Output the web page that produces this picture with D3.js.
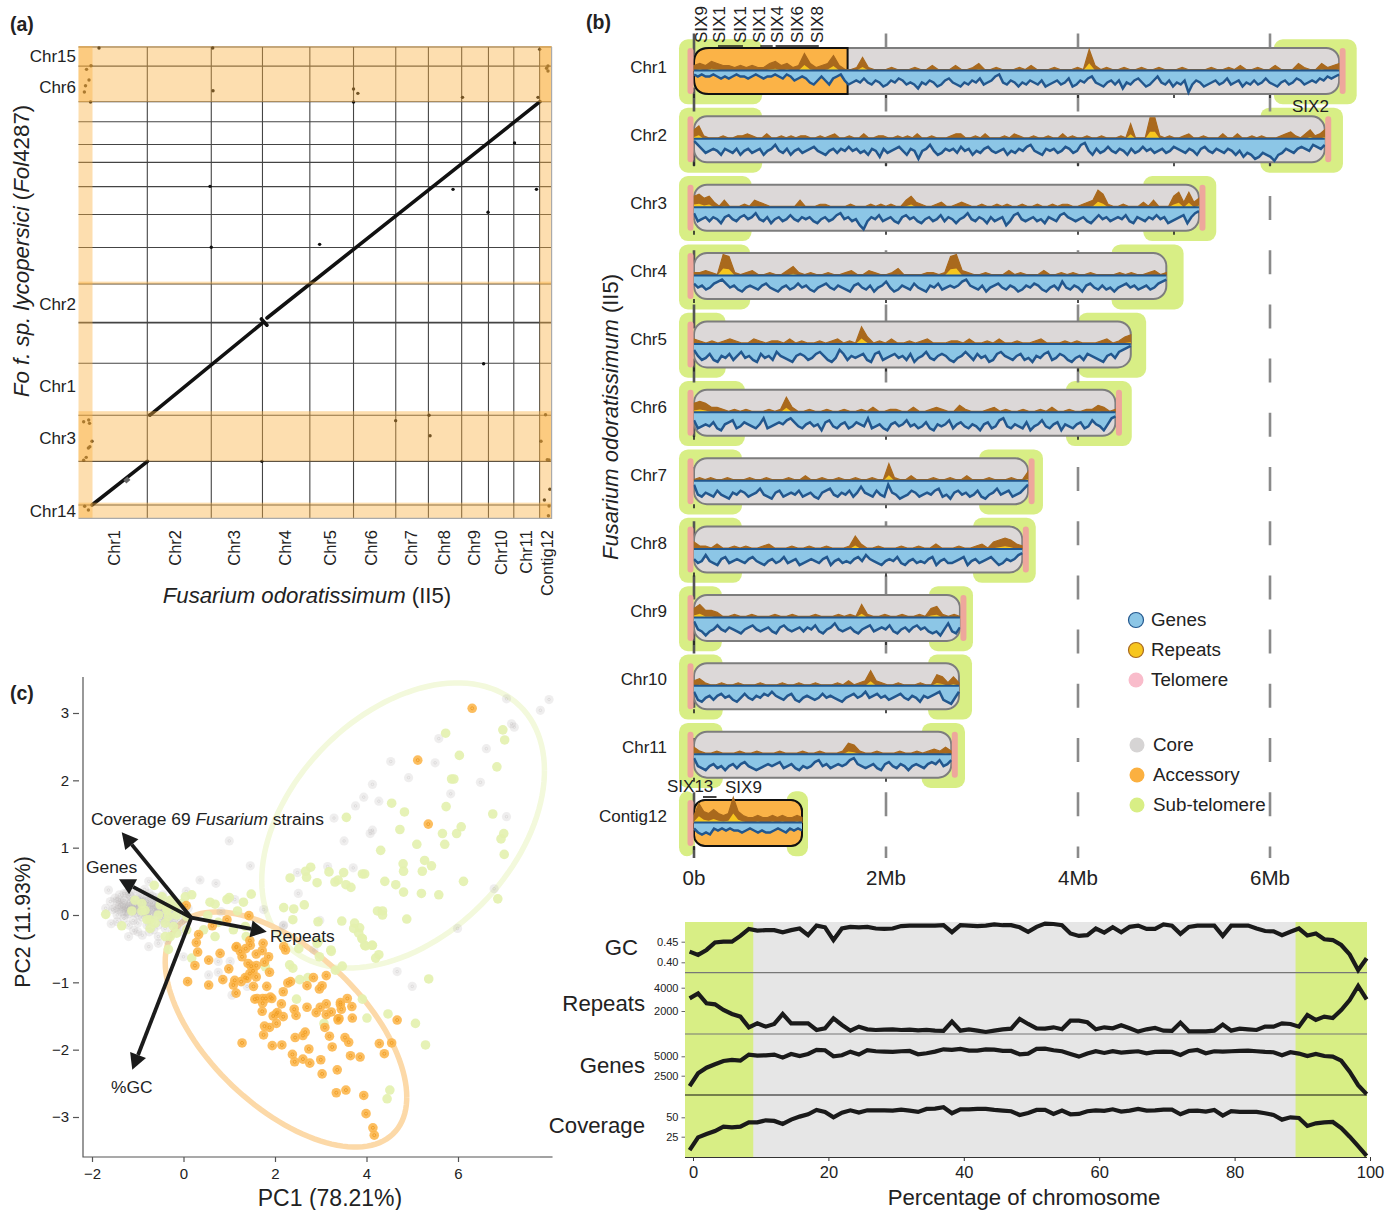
<!DOCTYPE html>
<html>
<head>
<meta charset="utf-8">
<script src="https://d3js.org/d3.v7.min.js"></script>
<style>
  body { margin: 0; background: #fff; }
  svg { display: block; }
  text { font-family: "Liberation Sans", Arial, sans-serif; fill: #222; }
</style>
</head>
<body>
<div id="my_dataviz"></div>
<script>

// ---- panel (a) dot plot, positions in Mb ----
var dotXBreaks = [6.68, 12.89, 17.86, 22.46, 26.7, 30.8, 33.97, 37.2, 39.8, 42.26, 44.77]
var dotYBreaks = [1.29, 5.53, 10.0, 15.05, 22.75, 26.3, 29.5, 32.2, 34.56, 36.3, 38.5, 40.45, 43.9, 45.76]
var dotYHeavy = [19.0]
var dotXLabels = [["Chr1",3.45],["Chr2",9.4],["Chr3",15.1],["Chr4",20.05],["Chr5",24.4],["Chr6",28.4],["Chr7",32.3],["Chr8",35.5],["Chr9",38.4],["Chr10",41],["Chr11",43.45],["Contig12",45.5]]
var dotYLabels = [["Chr15",44.85],["Chr6",41.85],["Chr2",20.8],["Chr1",12.8],["Chr3",7.75],["Chr14",0.7]]
var dotSegments = [[1.31,1.29,6.7,5.53],[6.94,10.02,17.9,19.0],[18.3,19.45,44.8,40.45],[17.75,19.35,18.3,18.75]]
var dotSmudge = [4.5,3.55,4.9,3.88]
var dotPoints = [[1.99,45.66],[13.03,45.66],[44.77,45.53],[0.78,43.59],[1.02,42.55],[0.68,42.0],[0.57,41.39],[1.17,40.42],[13.06,41.51],[26.7,41.68],[27.12,41.26],[26.7,40.42],[37.28,40.87],[44.61,40.87],[45.44,43.69],[45.58,43.91],[45.58,43.43],[1.21,43.94],[42.33,36.44],[36.36,31.94],[44.46,31.94],[39.76,29.71],[23.41,26.6],[12.77,32.23],[12.89,26.31],[39.33,15.01],[0.5,9.38],[0.99,9.54],[1.07,9.22],[1.31,7.48],[1.1,6.95],[0.96,6.83],[0.75,5.92],[0.5,5.63],[6.89,10.03],[6.65,5.53],[17.8,5.53],[30.79,9.48],[34.03,10.0],[34.13,8.02],[45.34,10.06],[44.9,7.48],[45.51,5.69],[45.68,5.66],[0.6,1.17],[0.96,0.81],[45.76,2.82],[45.23,1.78],[45.68,1.19],[45.62,0.25]]
var dotXBands = [[0,1.36],[44.77,45.93]]
var dotYBands = [[40.42,45.85],[5.53,10.4],[0,1.52],[22.72,22.98]]

// ---- panel (b) chromosomes ----
var chromNames = ["Chr1","Chr2","Chr3","Chr4","Chr5","Chr6","Chr7","Chr8","Chr9","Chr10","Chr11","Contig12"]
var chromLengths = [6.72,6.57,5.26,4.92,4.55,4.39,3.48,3.42,2.77,2.76,2.68,1.125]
var subtelLeft = [0.71,0.71,0.6,0.585,0.33,0.53,0.5,0.5,0.29,0.3,0.3,0.01]
var subtelRight = [6.04,5.9,4.68,4.35,4.0,3.875,2.97,2.906,2.448,2.4375,2.372,0.966]
var subtelRightEnd = [6.903,6.76,5.44,5.1,4.71,4.56,3.635,3.56,2.906,2.896,2.823,1.1875]
var rightTelomere = ["Chr1","Chr2","Chr3","Chr6","Chr7","Chr8","Chr9","Chr11"]
var accessorySpans = [["Chr1",1.6],["Contig12",1.125]]
var mbTicks = [0,2,4,6]
var sixLabels = [["SIX9",0.08],["SIX1",0.27],["SIX1",0.48],["SIX1",0.68],["SIX4",0.87],["SIX6",1.08],["SIX8",1.29]]
var sixBrackets = [[0.25,0.51],[0.69,0.82],[0.85,1.3]]

var repeatsChr1 = [3,4,3,5,4,3,3,2,3,2,3,2,2,4,5,3,4,2,3,9,4,2,3,4,8,3,1,1,2,7,2,1,1,1,2,1,1,1,2,1,1,3,1,1,1,3,1,1,2,4,1,1,2,1,1,1,2,1,3,1,1,1,2,1,1,1,2,1,11,3,1,2,1,1,2,1,1,2,1,1,2,1,1,1,2,1,1,1,1,2,1,1,2,1,3,1,1,2,1,1,3,1,1,1,4,2,1,1,4,2,3,4]
var repeatsChr2 = [5,7,2,1,1,1,2,1,1,2,2,3,2,1,1,3,1,1,2,1,2,1,2,2,1,1,2,1,2,3,1,1,2,1,1,3,1,1,2,2,1,1,2,1,2,1,3,1,1,2,1,1,1,2,3,3,1,1,2,1,3,1,1,1,2,1,3,2,1,1,2,1,1,2,1,1,3,1,2,1,1,2,1,1,2,1,1,1,2,1,8,1,1,1,11,11,2,1,2,1,1,2,3,1,1,2,1,1,1,3,1,1,3,1,1,2,1,2,1,1,1,2,3,4,2,1,3,5,2,3,5]
var repeatsChr3 = [6,7,5,6,3,1,4,1,1,1,2,1,4,3,2,1,1,1,1,1,1,4,1,1,1,2,2,1,1,1,1,2,1,1,1,2,1,2,1,2,1,1,4,6,3,2,1,1,2,3,1,1,2,3,2,1,1,2,1,1,2,1,2,1,1,2,1,1,2,1,1,2,1,2,2,1,1,2,3,4,9,7,2,1,1,2,1,1,1,3,1,4,1,1,1,6,8,3,8,3,5]
var repeatsChr4 = [2,2,3,2,1,11,10,2,1,2,3,1,1,2,1,1,3,5,2,1,2,1,1,2,1,1,2,3,1,1,3,2,1,1,2,4,1,1,1,1,2,2,1,2,10,11,3,2,1,1,2,1,1,1,3,1,2,1,1,1,3,1,1,2,1,2,1,1,2,1,1,1,1,2,1,2,1,1,2,3,1,2]
var repeatsChr5 = [3,2,1,2,1,2,3,2,1,1,3,2,1,2,2,1,3,1,2,1,1,2,1,2,3,1,2,1,9,4,1,2,1,3,1,1,2,1,2,3,1,1,1,2,2,1,3,1,1,2,1,3,1,1,2,1,1,2,3,1,1,1,2,1,2,1,1,1,2,3,1,2,4,5]
var repeatsChr6 = [5,6,5,3,3,2,1,2,1,2,1,1,1,2,1,2,8,3,1,1,2,1,1,2,1,1,2,1,1,2,1,3,1,1,2,2,1,1,3,1,1,2,3,2,1,1,4,2,1,1,1,2,3,1,2,1,1,2,1,1,2,1,3,1,1,2,1,1,2,2,4,3,1,2]
var repeatsChr7 = [1,2,1,2,1,1,2,1,1,1,2,1,1,2,1,1,1,2,1,1,3,1,1,2,1,1,2,1,1,2,1,1,2,1,1,9,2,1,1,3,1,1,1,2,1,1,2,1,1,3,1,1,1,2,1,1,1,2,1,1,5]
var repeatsChr8 = [4,2,2,1,3,1,1,2,1,2,1,1,2,3,1,1,1,2,1,1,2,1,1,2,1,1,1,2,7,3,1,1,2,1,1,1,2,1,1,2,1,1,3,1,1,1,2,1,1,2,3,1,4,5,6,5,3,2]
var repeatsChr9 = [5,7,4,4,3,1,1,2,1,1,2,1,1,1,2,1,1,2,1,1,1,2,1,1,1,2,1,2,1,7,2,1,1,2,1,1,2,1,1,2,1,5,6,2,1,2,1]
var repeatsChr10 = [3,4,2,1,1,2,1,1,2,1,1,1,2,1,1,1,2,1,1,2,1,1,2,1,1,1,2,1,3,1,2,3,8,3,2,1,1,2,1,1,1,2,1,1,6,5,2,5,2]
var repeatsChr11 = [4,2,1,1,2,1,1,1,2,1,1,2,1,1,1,2,1,1,1,2,1,1,2,1,1,1,2,6,5,2,1,1,2,1,1,1,2,1,1,2,1,2,3,2,4,2]
var repeatsContig12 = [4,10,6,5,7,5,4,5,13,6,4,3,3,4,3,3,4,3,4,3,3,4,3]

var genesChr1 = [2,3,2,3,3,2,3,4,3,4,3,2,3,3,4,3,2,3,4,3,3,2,3,4,2,3,5,4,3,4,6,7,5,3,5,7,4,3,2,5,7,6,5,6,4,6,7,5,6,8,7,5,6,4,5,7,6,7,9,6,7,5,6,8,7,5,4,6,7,8,6,7,5,6,4,7,6,5,3,2,6,7,5,6,8,6,7,5,6,7,5,8,7,6,5,7,6,4,8,7,5,6,4,3,6,7,8,6,5,7,5,9,6,7,5,4,6,8,7,5,3,6,7,5,8,6,7,5,11,7,5,6,8,7,6,5,7,6,4,7,6,5,8,6,7,5,7,6,4,6,7,8,6,5,7,6,4,5,7,6,5,6,4,5,3,4,3,2]
var genesChr2 = [1,3,5,7,6,5,6,8,5,6,7,5,8,6,5,7,6,5,8,6,5,3,6,7,5,8,6,5,7,6,5,4,6,7,8,6,5,7,5,6,4,6,5,7,6,8,5,6,9,5,7,6,5,4,6,8,5,6,10,6,5,3,6,8,7,5,6,5,7,4,6,5,8,6,7,5,4,6,7,6,5,8,6,7,5,6,4,3,6,7,8,5,6,5,7,6,4,5,7,6,3,2,6,8,5,7,6,4,6,7,5,6,8,5,7,6,4,6,5,7,6,5,7,6,4,5,6,7,5,6,8,5,4,6,7,5,6,7,5,6,8,6,9,7,8,10,9,7,8,9,11,8,7,5,6,7,5,4,5,6,3,4,5,3]
var genesChr3 = [3,7,6,5,7,5,6,8,5,4,6,7,5,4,6,5,3,6,7,5,8,6,5,7,6,4,6,7,5,6,5,7,8,6,5,7,6,4,3,6,5,7,6,9,11,7,5,6,4,7,6,5,7,8,5,4,6,5,7,8,6,5,7,6,4,7,5,6,8,6,5,3,6,7,5,6,8,5,7,6,5,9,7,4,3,6,7,6,5,7,6,8,5,6,7,4,3,5,6,7,6,5,7,8,6,4,6,5,7,6,5,6,4,7,8,5,6,7,5,6,4,6,5,8,7,6,5,4,8,5,3,2]
var genesChr4 = [4,6,5,7,6,4,3,2,4,6,5,7,8,6,5,6,7,5,4,6,7,8,6,5,7,6,4,6,5,7,8,6,5,4,6,7,5,6,7,8,5,4,6,7,5,8,6,5,3,6,8,7,5,6,7,4,6,7,8,5,6,4,7,6,5,6,5,3,2,5,6,7,5,8,6,5,4,6,7,5,6,8,7,5,6,4,5,7,8,6,5,7,3,6,7,5,6,8,5,4,6,7,5,7,6,8,6,5,4,6,5,7,6,5,7,6,4,3,2]
var genesChr5 = [3,6,8,7,5,8,9,6,7,5,8,6,4,7,6,8,9,5,7,6,8,4,6,7,8,9,6,5,6,8,7,5,4,6,8,9,7,3,5,8,6,7,6,5,8,9,5,4,8,7,6,5,7,6,8,5,9,7,6,4,7,8,6,5,6,8,9,7,6,4,6,8,5,7,6,9,8,5,4,6,7,8,6,5,8,7,9,6,7,5,4,8,7,5,6,8,9,7,6,8,5,6,7,8,9,6,5,7,4,3,2,1]
var genesChr6 = [4,8,7,6,7,5,8,9,6,5,4,8,7,5,6,7,8,6,3,8,7,6,5,6,4,3,5,7,8,6,5,7,6,9,5,4,7,8,6,5,8,7,5,6,7,3,8,7,6,8,9,6,5,7,6,4,7,6,8,7,5,8,9,6,7,6,4,8,6,5,7,8,6,7,9,6,5,8,7,4,3,7,8,6,7,8,5,9,7,6,4,7,8,6,5,9,6,7,8,6,5,8,7,4,6,7,9,6,3,2]
var genesChr7 = [2,7,8,6,7,8,5,7,8,9,6,7,5,6,8,7,6,4,7,8,9,6,5,8,7,6,7,5,8,7,6,8,9,6,5,4,7,8,6,7,5,8,6,3,6,7,8,5,7,8,2,6,7,9,8,7,5,6,8,7,6,7,5,4,8,7,9,6,5,7,6,8,7,5,8,9,7,6,4,7,6,5,8,7,6,4,2]
var genesChr8 = [5,7,6,3,6,7,8,5,4,7,6,5,6,7,5,4,6,7,8,6,5,7,6,4,7,6,5,8,7,6,5,6,7,5,4,8,6,5,7,6,7,5,4,6,3,5,6,7,8,6,5,6,4,7,8,6,5,7,6,7,5,4,8,6,5,7,7,6,5,4,8,6,5,7,6,5,4,6,8,7,5,6,5,3,2]
var genesChr9 = [2,6,7,9,7,6,4,6,7,5,6,7,8,6,5,4,6,7,6,5,7,8,5,4,6,7,6,5,7,5,6,4,7,8,6,5,3,6,7,6,5,7,8,6,5,4,7,6,5,6,4,7,8,6,5,7,5,4,6,5,7,8,7,9,6,3,7,8,5]
var genesChr10 = [3,7,8,6,5,7,5,4,6,5,7,8,6,4,6,7,5,6,4,5,3,5,6,7,5,4,7,8,6,5,6,7,6,4,6,5,6,7,8,6,5,4,6,5,3,6,5,4,6,5,7,6,5,4,6,7,5,6,8,5,6,5,4,3,7,8,9,6,3]
var genesChr11 = [2,6,7,8,6,5,7,6,8,6,5,7,5,4,6,7,8,7,6,5,6,5,4,7,6,5,7,8,6,7,6,4,3,6,5,7,6,5,6,5,3,2,5,6,7,6,5,7,8,5,4,6,7,5,6,8,6,5,6,7,5,4,5,3,6,5,3]
var genesContig12 = [3,5,6,5,6,3,4,3,4,3,4,4,5,4,3,4,5,4,5,5,4,3,4,5,3,4,3,4]

// ---- panel (c) PCA, grey = core, green = sub-telomere, orange = accessory ----
var pcaCore = [[7.06,3.21],[7.99,3.2],[7.8,3.04],[7.17,2.84],[7.23,2.79],[5.58,2.62],[6.62,2.47],[4.53,2.28],[5.5,2.26],[4.92,2.04],[6.49,1.97],[4.13,1.94],[5.84,1.8],[3.94,1.75],[4.27,1.69],[3.76,1.62],[3.29,1.44],[7.06,1.46],[4.13,1.26],[4.08,1.21],[3.51,1.1],[3.15,0.72],[2.49,0.63],[3.71,0.7],[2.51,0.32],[2.98,-0.08],[2.18,-0.16],[6.79,0.39],[5.99,-0.2],[-1.64,0.37],[-1.58,-0.13],[-0.76,0.5],[0.36,0.52],[0.71,0.47],[0.06,0.35],[1.0,1.1],[1.46,0.73],[1.75,0.08],[1.12,0.23],[0.82,0.05],[-0.76,-0.47],[-1.2,-0.32],[-1.09,-0.23],[4.67,-0.84],[5.0,-1.06],[0.55,-0.89],[0.76,-0.69],[0.76,-0.85],[1.02,-0.69],[1.39,-1.06],[1.06,-1.19],[2.19,-0.15],[2.85,-0.52],[0,-0.62],[-0.55,-0.42],
[-1.6,0.2],[-1.5,0.1],[-1.5,0.25],[-1.45,0],[-1.4,0.15],[-1.4,0.3],[-1.35,0.05],[-1.3,0.22],[-1.3,-0.05],[-1.25,0.12],[-1.25,0.32],[-1.2,0.02],[-1.2,0.2],[-1.15,0.28],[-1.15,0.08],[-1.1,-0.08],[-1.1,0.15],[-1.05,0.35],[-1.05,0.03],[-1,0.22],[-1,-0.12],[-0.95,0.1],[-0.95,0.28],[-0.9,-0.03],[-0.9,0.18],[-0.85,0.38],[-0.85,0.05],[-0.8,-0.15],[-0.8,0.12],[-0.8,0.25],[-0.75,0],[-0.75,0.32],[-0.7,-0.1],[-0.7,0.18],[-0.65,0.08],[-0.65,-0.22],[-0.6,0.26],[-0.6,-0.02],[-0.55,0.12],[-0.55,-0.15],[-0.5,0.02],[-0.5,0.22],[-0.45,-0.08],[-0.45,0.3],[-0.4,0.1],[-0.4,-0.2],[-0.35,0],[-0.35,0.18],[-0.3,-0.12],[-0.25,0.08],[-0.25,-0.28],[-0.2,-0.05],[-0.2,0.2],[-0.15,0.02],[-0.15,-0.18],[-0.1,0.12],[-0.1,-0.08],[-0.05,-0.25],[0,0.03],[0,-0.12],[0.05,-0.05],[0.1,0.1],
[-1.55,0.08],[-1.45,0.2],[-1.35,0.12],[-1.3,0.32],[-1.28,0],[-1.22,0.1],[-1.18,0.3],[-1.12,0.05],[-1.08,0.22],[-1.02,0.12],[-0.98,0],[-0.92,0.25],[-0.88,0.1],[-0.82,0.02],[-0.78,0.2],[-0.72,0.08],[-0.68,0.28],[-0.62,0.15],[-0.58,0.04],[-0.52,0.18],[-0.48,-0.05],[-0.42,0.05],[-0.38,-0.1],[-0.32,0.08],[-0.28,-0.02],[-0.22,-0.15],[-0.18,0.1],[-1.42,0.08],[-1.32,0.18],[-1.25,0.05],[-1.15,0.18],[-1.05,0.14],[-0.95,0.18],[-0.85,0.2],[-0.75,0.12],[-0.65,0.18],[-0.55,0.05],[-0.45,0.12],[-1.2,0.12],[-1.1,0.08],[-1,0.08],[-0.9,0.08],[-0.8,0.05],[-0.7,0],[-0.6,0.1],[-1.3,0.1],[-1.4,0.22],[-1.7,0.1],[-1.45,-0.1],[-1.2,-0.15],[-1,-0.25],[-0.9,-0.3],[-0.75,-0.25],[-0.55,-0.32],[-0.35,-0.38]]
var pcaSubtel = [[5.73,2.7],[6.98,2.75],[7.02,2.6],[6.03,2.37],[6.85,2.2],[5.86,2.02],[5.91,2.02],[4.55,1.66],[4.83,1.53],[5.74,1.61],[6.76,1.5],[3.56,1.45],[4.73,1.27],[5.66,1.21],[5.97,1.21],[6.07,1.31],[7,1.21],[6.94,1.13],[5.1,1.05],[5.71,1.05],[4.31,0.96],[7.01,0.9],[4.8,0.76],[5.27,0.81],[5.42,0.73],[5.22,0.65],[4.81,0.65],[2.78,0.71],[2.67,0.65],[2.33,0.55],[2.69,0.56],[3.18,0.64],[3.5,0.63],[3.91,0.61],[3.96,0.61],[2.92,0.48],[3.31,0.49],[3.38,0.52],[3.55,0.45],[3.66,0.41],[4.4,0.5],[4.64,0.45],[6.12,0.5],[4.81,0.34],[5.2,0.32],[5.58,0.3],[6.87,0.24],[2.19,0.11],[2.41,0.09],[2.64,0.15],[2.39,-0.07],[2.94,-0.1],[3.46,-0.09],[3.74,-0.12],[3.85,-0.19],[4.24,0.06],[4.35,0.06],[4.35,0],[4.88,-0.06],[3.9,-0.35],[3.96,-0.45],[4.12,-0.45],[2.94,-0.4],[3.22,-0.52],
[-1.7,0.01],[-1.35,-0.16],[-0.64,0.44],[0.04,0.27],[0.18,0.3],[0.58,0.19],[0.69,0.16],[0.95,0.23],[1,0.26],[1.31,0.19],[1.48,0.31],[1.18,0.06],[0.53,-0.01],[0.76,-0.11],[1.09,-0.22],[0.69,-0.32],[-1.06,0.22],[-0.91,0.06],[-0.51,0.15],[-0.36,0.07],[-0.18,0.12],[-0.73,-0.07],[-0.4,-0.12],[-0.22,-0.17],[-0.29,-0.32],[0.07,-0.22],[0.44,-0.22],[1.37,-0.32],[1.35,-0.17],
[-1.13,0.06],[-0.8,-0.07],[-0.62,-0.12],[-0.73,-0.2],[-0.33,-0.02],[-0.15,0],[-0.55,0],[-0.29,0.22],[-0.04,0.17],[-0.36,0.1],[0.07,-0.02],[-0.84,0.07],[-0.91,0.17],[-0.47,0.27],[-0.15,-0.27],[-0.4,-0.32],
[2.32,-0.74],[2.39,-0.79],[2.54,-0.96],[2.72,-0.93],[3.32,-0.82],[3.47,-0.76],[2.97,-0.62],[3.23,-0.54],[2.47,-1.25],[3.91,-1.25],[4.01,-1.53],[4.47,-1.47],[5.07,-1.61],[5.36,-0.95],[5.29,-1.93],[4.51,-2.6],[4.45,-2.73],[3.07,-1.61],[-0.33,-0.51],[0.18,-0.64],[1.79,-0.77],[3.98,-0.46],[4.13,-0.45],[4.27,-0.59],[4.2,-0.64],[3.83,-0.27],[3.72,-0.2],[3.91,-0.35],[2.92,-0.42],[2.52,-0.5]]
var pcaAccessory = [[0.33,-0.29],[0.28,-0.41],[0.31,-0.55],[0.55,-0.67],[0.25,-0.75],[0.09,-0.99],[0.55,-1.04],[0.8,-0.57],[0.86,-0.96],[0.99,-0.8],[1.15,-0.48],[1.24,-0.54],[1.28,-0.62],[1.36,-0.5],[1.46,-0.45],[1.45,-0.38],[1.59,-0.58],[1.72,-0.53],[1.74,-0.42],[1.86,-0.62],[1.77,-0.7],[1.41,-0.72],[1.48,-0.76],[1.59,-0.75],[1.45,-0.87],[1.88,-0.85],[1.39,-0.94],[1.59,-0.92],[1.12,-0.97],[1.09,-1.04],[1.26,-0.99],[1.53,-1.06],[1.82,-1.06],[1.15,-1.16],[2.18,-1.14],[2.28,-1.01],[2.34,-0.99],[2.7,-1.05],[2.84,-0.93],[3.12,-0.9],[2.97,-1.1],[3.03,-1.05],[2.19,-0.47],[2.23,-0.52],[1.61,-1.24],[1.73,-1.24],[1.73,-1.31],[1.9,-1.22],[1.93,-1.24],[2.14,-1.32],[1.72,-1.43],[2.03,-1.47],[1.96,-1.5],[2.18,-1.51],[2.03,-1.61],[1.77,-1.65],[1.88,-1.67],[1.75,-1.78],[2.42,-1.4],[2.46,-1.49],[2.7,-1.37],[2.9,-1.45],[2.99,-1.37],[3.12,-1.32],[3.12,-1.48],[3.23,-1.44],[3.38,-1.54],[3.43,-1.3],[3.45,-1.4],[3.58,-1.24],[3.68,-1.36],[3.69,-1.53],[3.09,-1.67],[2.44,-1.82],[2.61,-1.79],[2.66,-1.74],[3.19,-1.8],[3.53,-1.82],[3.61,-1.89],[1.28,-1.9],[1.94,-1.94],[2.15,-1.93],[3.25,-1.96],[2.74,-1.99],[2.38,-2.07],[2.43,-2.18],[2.61,-2.14],[2.76,-2.2],[3,-2.15],[3.65,-2.09],[3.86,-2.11],[4.28,-1.91],[4.55,-1.9],[4.39,-2.06],[4.67,-1.56],[3.36,-2.3],[3.03,-2.36],[3.34,-2.64],[3.55,-2.6],[3.94,-2.68],[3.99,-2.95],[4.14,-3.16],[4.17,-3.27],[0.06,0.14],[0.95,-0.07],[1.43,-0.01],[0.63,-0.16],[1.16,-0.47],[6.31,3.07],[5.12,2.3],[5.35,1.35],[1.35,-0.93],[1.52,-0.83],[1.56,-1.25],[1.8,-1.24],[2.05,-1.45],[3.43,-1.33],[3.38,-1.56],[3.4,-1.54]]
// ellipses: centre x, centre y, sd x, sd y, correlation
var ellipseAccessory = [2.24,-1.7,2.64,1.746,-0.575]
var ellipseSubtel = [4.8,1.33,3.09,2.117,0.385]
var pcaOrigin = [0.17,-0.04]
var pcaArrows = [["cov",-1.35,1.23],["genes",-1.41,0.53],["rep",1.82,-0.25],["gc",-1.12,-2.3]]

// ---- bottom panel, mean along chromosome, x = -0.5 + 1.25 * index ----
var gcValues = [.426,.418,.430,.448,.450,.450,.464,.481,.477,.478,.478,.473,.478,.482,.466,.489,.485,.454,.482,.486,.485,.486,.482,.481,.482,.488,.489,.489,.489,.489,.490,.473,.490,.489,.488,.489,.492,.490,.490,.485,.474,.486,.494,.493,.490,.470,.464,.466,.482,.472,.485,.473,.486,.489,.481,.481,.492,.489,.469,.486,.489,.489,.489,.464,.489,.489,.489,.482,.476,.475,.466,.474,.482,.465,.470,.456,.454,.442,.419,.381,.410]
var repeatValues = [3086,3514,2657,2571,2086,1743,1514,600,943,657,886,1743,943,943,943,371,514,1371,800,314,657,429,371,400,429,371,400,343,371,314,286,1086,314,429,314,200,314,429,486,1314,886,514,486,600,429,1171,1171,1029,429,600,514,771,514,229,429,543,314,286,1000,257,257,257,314,829,314,486,429,371,657,657,943,886,657,1657,1229,1514,1400,2086,2943,4143,3000]
var geneValues = [1160,2800,3530,3970,4400,4530,4440,5220,5090,5130,5220,4830,5300,5040,5300,5820,5780,5000,5130,5600,5220,5780,5650,5600,5560,5650,5690,5260,5390,5600,5900,5820,5950,5730,5730,5900,5860,5690,5690,5260,5350,5950,5990,5780,5650,5300,4960,5350,5650,5430,5650,5470,5560,5650,5390,5560,5600,5560,5170,5690,5820,5390,5650,5600,5650,5690,5730,5650,5560,5520,5130,5520,5350,5040,5300,5040,4960,4440,3020,1290,130]
var coverageValues = [7.8,24.1,28.4,32.3,37.9,37.1,37.9,43.5,43.5,46.1,45.3,41.4,47,50.9,53.9,59.5,56.9,50,56,59,56,59,59,59,58.6,59.9,58.6,56.9,60.8,61.2,62.9,55.2,60.3,60.3,60.8,60.8,59.5,58.6,57.8,53,55.6,59.5,59.5,54.3,58.6,53.9,54.3,57.8,59,58.2,60.3,57.3,58.6,60.8,58.6,59,59.9,59.9,53.9,58.2,58.6,57.3,59.5,52.2,57.8,56.9,56.9,56.9,55.2,53,47,50,49.1,38.8,42.2,43.5,44,36.2,25,12.9,0.4]
var subtelEdges = [8.9,89]

var width = 1397, height = 1210
var svg = d3.select("#my_dataviz").append("svg")
  .attr("width", width).attr("height", height)

function label(g, x, y, txt, size, anchor) {
  return g.append("text").attr("x", x).attr("y", y).text(txt)
    .attr("font-size", size).attr("text-anchor", anchor || "start")
    .attr("dominant-baseline", "central")
}

svg.append("text").attr("x", 10).attr("y", 31).text("(a)").attr("font-size", 19.5).attr("font-weight", "bold")
svg.append("text").attr("x", 586).attr("y", 29).text("(b)").attr("font-size", 19.5).attr("font-weight", "bold")
svg.append("text").attr("x", 10).attr("y", 700).text("(c)").attr("font-size", 19.5).attr("font-weight", "bold")

//////////
// PANEL A
//////////
var ax = d3.scaleLinear().domain([0, 45.93]).range([78.5, 551.6])
var ay = d3.scaleLinear().domain([0, 45.76]).range([518.3, 47])
var gA = svg.append("g")

gA.selectAll("line.v").data(dotXBreaks).enter().append("line")
  .attr("x1", d => ax(d)).attr("x2", d => ax(d))
  .attr("y1", ay(45.76)).attr("y2", ay(0))
  .attr("stroke", "#444").attr("stroke-width", 1.1)
gA.selectAll("line.h").data(dotYBreaks).enter().append("line")
  .attr("x1", ax(0)).attr("x2", ax(45.93))
  .attr("y1", d => ay(d)).attr("y2", d => ay(d))
  .attr("stroke", "#444").attr("stroke-width", 1.1)
gA.selectAll("line.hh").data(dotYHeavy).enter().append("line")
  .attr("x1", ax(0)).attr("x2", ax(45.93))
  .attr("y1", d => ay(d)).attr("y2", d => ay(d))
  .attr("stroke", "#444").attr("stroke-width", 1.8)

gA.selectAll("line.seg").data(dotSegments).enter().append("line")
  .attr("x1", d => ax(d[0])).attr("y1", d => ay(d[1]))
  .attr("x2", d => ax(d[2])).attr("y2", d => ay(d[3]))
  .attr("stroke", "#111").attr("stroke-width", 3.6).attr("stroke-linecap", "round")
gA.append("line")
  .attr("x1", ax(dotSmudge[0])).attr("y1", ay(dotSmudge[1]))
  .attr("x2", ax(dotSmudge[2])).attr("y2", ay(dotSmudge[3]))
  .attr("stroke", "#666").attr("stroke-width", 4.6)
gA.selectAll("circle").data(dotPoints).enter().append("circle")
  .attr("cx", d => ax(d[0])).attr("cy", d => ay(d[1])).attr("r", 1.7).attr("fill", "#111")

gA.selectAll("rect.xb").data(dotXBands).enter().append("rect")
  .attr("x", d => ax(d[0])).attr("width", d => ax(d[1]) - ax(d[0]))
  .attr("y", ay(45.85)).attr("height", ay(0) - ay(45.85))
  .attr("fill", "#fbb040").attr("opacity", 0.42)
gA.selectAll("rect.yb").data(dotYBands).enter().append("rect")
  .attr("x", ax(0)).attr("width", ax(45.93) - ax(0))
  .attr("y", d => ay(d[1])).attr("height", d => ay(d[0]) - ay(d[1]))
  .attr("fill", "#fbb040").attr("opacity", 0.42)

gA.append("path").attr("d", d3.line()([[ax(45.93), ay(45.76)], [ax(45.93), ay(0)], [ax(0), ay(0)]]))
  .attr("fill", "none").attr("stroke", "#aaa").attr("stroke-width", 1.2)

dotYLabels.forEach(d => label(gA, 76, ay(d[1]), d[0], 17, "end"))
dotXLabels.forEach(d => {
  label(gA, 0, 0, d[0], 16.5, "end")
    .attr("transform", "translate(" + ax(d[1]) + ",530) rotate(-90)")
})
var axTitle = label(gA, 307, 595, "", 22.2, "middle")
axTitle.append("tspan").attr("font-style", "italic").text("Fusarium odoratissimum")
axTitle.append("tspan").text(" (II5)")
var ayTitle = label(gA, 0, 0, "", 22.3, "middle").attr("transform", "translate(21,251) rotate(-90)")
ayTitle.append("tspan").attr("font-style", "italic").text("Fo f. sp. lycopersici ")
ayTitle.append("tspan").text("(")
ayTitle.append("tspan").attr("font-style", "italic").text("Fol")
ayTitle.append("tspan").text("4287)")

//////////
// PANEL B
//////////
var bx = d3.scaleLinear().domain([0, 6]).range([694, 1270])
var rowTop = d3.scalePoint().domain(chromNames).range([48, 800])
var rowLabel = d3.scalePoint().domain(chromNames).range([67, 816])
var rowH = 46, trackUnit = 2
var repeatTracks = [repeatsChr1,repeatsChr2,repeatsChr3,repeatsChr4,repeatsChr5,repeatsChr6,repeatsChr7,repeatsChr8,repeatsChr9,repeatsChr10,repeatsChr11,repeatsContig12]
var geneTracks = [genesChr1,genesChr2,genesChr3,genesChr4,genesChr5,genesChr6,genesChr7,genesChr8,genesChr9,genesChr10,genesChr11,genesContig12]
var gB = svg.append("g")

// sub-telomere boxes first, the guide lines run over them
chromNames.forEach(function(name, i) {
  var t = rowTop(name)
  gB.append("rect").attr("x", 679).attr("y", t - 8.7).attr("rx", 9)
    .attr("width", bx(subtelLeft[i]) - 679).attr("height", rowH + 19)
    .attr("fill", "#d8ee85")
  gB.append("rect").attr("x", bx(subtelRight[i])).attr("y", t - 8.7).attr("rx", 9)
    .attr("width", bx(subtelRightEnd[i]) - bx(subtelRight[i])).attr("height", rowH + 19)
    .attr("fill", "#d8ee85")
})

gB.selectAll("line.guide").data(mbTicks).enter().append("line")
  .attr("x1", d => bx(d)).attr("x2", d => bx(d))
  .attr("y1", 33.4).attr("y2", 858)
  .attr("stroke", d => d === 0 ? "#555" : "#8a8a8a").attr("stroke-width", 2.6)
  .attr("stroke-dasharray", "24 30.2")

var tickMb = [0, 2, 4, 5, 6]
chromNames.forEach(function(name, i) {
  var t = rowTop(name), len = chromLengths[i]
  var g = gB.append("g")
  var base = t + 22.5

  g.selectAll("line.tk").data(tickMb.filter(d => d <= len)).enter().append("line")
    .attr("x1", d => bx(d)).attr("x2", d => bx(d))
    .attr("y1", t + rowH).attr("y2", t + rowH + 4)
    .attr("stroke", "#222").attr("stroke-width", 1.6)

  g.append("rect").attr("x", bx(0)).attr("y", t).attr("rx", 13)
    .attr("width", bx(len) - bx(0)).attr("height", rowH)
    .attr("fill", "#dcd8d8").attr("stroke", "#7d7d7d").attr("stroke-width", 2)

  var acc = accessorySpans.filter(d => d[0] === name)[0]
  if (acc) {
    var r = 15, x0 = bx(0), x1 = bx(acc[1]), b = t + rowH
    var pth = d3.path()
    if (acc[1] === len) {
      g.append("rect").attr("x", x0).attr("y", t).attr("rx", 11)
        .attr("width", x1 - x0).attr("height", rowH)
        .attr("fill", "#fbb347").attr("stroke", "#111").attr("stroke-width", 2)
    } else {
      pth.moveTo(x1, t); pth.lineTo(x0 + r, t)
      pth.quadraticCurveTo(x0, t, x0, t + r); pth.lineTo(x0, b - r)
      pth.quadraticCurveTo(x0, b, x0 + r, b); pth.lineTo(x1, b); pth.closePath()
      g.append("path").attr("d", pth.toString())
        .attr("fill", "#fbb347").attr("stroke", "#111").attr("stroke-width", 2)
    }
  }

  // repeats above the line, genes below it
  var rep = repeatTracks[i], gen = geneTracks[i]
  var rx = d3.scaleLinear().domain([0, rep.length - 1]).range([bx(0), bx(len)])
  var gx = d3.scaleLinear().domain([0, gen.length - 1]).range([bx(0), bx(len)])
  var downY = d => base + d * trackUnit

  g.append("path").datum(rep)
    .attr("d", d3.area().x((d, j) => rx(j)).y0(base).y1(d => base - (d * trackUnit - 1)))
    .attr("fill", "#a9691d").attr("stroke", "#a9691d").attr("stroke-width", 1.2)
  g.append("path").datum(rep)
    .attr("d", d3.area().x((d, j) => rx(j)).y0(base).y1(d => base - Math.max(0, d - 3) * trackUnit * 0.45))
    .attr("fill", "#f7c61e")
  g.append("path").datum(gen)
    .attr("d", d3.area().x((d, j) => gx(j)).y0(base).y1(downY))
    .attr("fill", "#8cc6e6")
  g.append("path").datum(gen)
    .attr("d", d3.line().x((d, j) => gx(j)).y(downY))
    .attr("fill", "none").attr("stroke", "#22578e").attr("stroke-width", 2.5)
  g.append("line").attr("x1", bx(0)).attr("x2", bx(len)).attr("y1", base).attr("y2", base)
    .attr("stroke", "#22578e").attr("stroke-width", 2)

  // telomeres
  g.append("rect").attr("x", 687.5).attr("y", t).attr("width", 6).attr("height", rowH).attr("rx", 3)
    .attr("fill", "#eea79c")
  if (rightTelomere.indexOf(name) >= 0) {
    g.append("rect").attr("x", bx(len) + 0.5).attr("y", t).attr("width", 6).attr("height", rowH).attr("rx", 3)
      .attr("fill", "#eea79c")
  }
  label(gB, 667, rowLabel(name), name, 17, "end")
})

sixLabels.forEach(d => {
  label(gB, 0, 0, d[0], 17, "start")
    .attr("transform", "translate(" + bx(d[1]) + ",43) rotate(-90)")
})
gB.selectAll("line.six").data(sixBrackets).enter().append("line")
  .attr("x1", d => bx(d[0])).attr("x2", d => bx(d[1])).attr("y1", 46).attr("y2", 46)
  .attr("stroke", "#111").attr("stroke-width", 1.4)
label(gB, 1292, 106, "SIX2", 17)
label(gB, 667, 786, "SIX13", 17)
label(gB, 725, 787, "SIX9", 17)
gB.append("line").attr("x1", 703).attr("x2", 716.5).attr("y1", 797).attr("y2", 797)
  .attr("stroke", "#111").attr("stroke-width", 1.6)

label(gB, bx(0), 877, "0b", 20.5, "middle")
label(gB, bx(2), 877, "2Mb", 20.5, "middle")
label(gB, bx(4), 877, "4Mb", 20.5, "middle")
label(gB, bx(6), 877, "6Mb", 20.5, "middle")

var byTitle = label(gB, 0, 0, "", 22, "middle").attr("transform", "translate(610,417) rotate(-90)")
byTitle.append("tspan").attr("font-style", "italic").text("Fusarium odoratissimum")
byTitle.append("tspan").text(" (II5)")

var legendTrack = [["Genes","#8cc6e6","#22578e",620],["Repeats","#f7c61e","#a9691d",650],["Telomere","#f9bccb","none",680]]
legendTrack.forEach(d => {
  gB.append("circle").attr("cx", 1136).attr("cy", d[3]).attr("r", 7.5).attr("fill", d[1]).attr("stroke", d[2]).attr("stroke-width", 1.2)
  label(gB, 1151, d[3] - 1, d[0], 18.8)
})
var legendType = [["Core","#d6d4d4",745],["Accessory","#fbb040",775],["Sub-telomere","#d8ee85",805]]
legendType.forEach(d => {
  gB.append("circle").attr("cx", 1137).attr("cy", d[2]).attr("r", 7.5).attr("fill", d[1])
  label(gB, 1153, d[2] - 1, d[0], 18.8)
})

//////////
// PANEL C
//////////
var cx = d3.scaleLinear().domain([-2, 6]).range([92, 458])
var cy = d3.scaleLinear().domain([-3, 3]).range([1117, 713])
var gC = svg.append("g")

function ellipsePath(e) {
  var pts = d3.range(0, 2 * Math.PI + 0.05, 0.05).map(function(t) {
    return [cx(e[0] + e[2] * Math.cos(t)),
            cy(e[1] + e[3] * (e[4] * Math.cos(t) + Math.sqrt(1 - e[4] * e[4]) * Math.sin(t)))]
  })
  return d3.line()(pts)
}
gC.append("path").attr("d", ellipsePath(ellipseSubtel)).attr("fill", "none").attr("stroke", "#f3f9dc").attr("stroke-width", 5.5)
gC.append("path").attr("d", ellipsePath(ellipseAccessory)).attr("fill", "none").attr("stroke", "#fcd9a8").attr("stroke-width", 5.5)

gC.selectAll("circle.core").data(pcaCore).enter().append("circle")
  .attr("cx", d => cx(d[0])).attr("cy", d => cy(d[1])).attr("r", 4.6)
  .attr("fill", "#b5b3b3").attr("opacity", 0.22)
gC.selectAll("circle.corein").data(pcaCore).enter().append("circle")
  .attr("cx", d => cx(d[0])).attr("cy", d => cy(d[1])).attr("r", 1.3)
  .attr("fill", "none").attr("stroke", "#b0aeae").attr("stroke-width", 0.7).attr("opacity", 0.35)
gC.selectAll("circle.sub").data(pcaSubtel).enter().append("circle")
  .attr("cx", d => cx(d[0])).attr("cy", d => cy(d[1])).attr("r", 4.8)
  .attr("fill", "#e3f1ae").attr("opacity", 0.9)
gC.selectAll("circle.acc").data(pcaAccessory).enter().append("circle")
  .attr("cx", d => cx(d[0])).attr("cy", d => cy(d[1])).attr("r", 4.8)
  .attr("fill", "#fcb54a").attr("opacity", 0.88)
gC.selectAll("circle.accin").data(pcaAccessory).enter().append("circle")
  .attr("cx", d => cx(d[0])).attr("cy", d => cy(d[1])).attr("r", 1.5)
  .attr("fill", "none").attr("stroke", "#ee9a20").attr("stroke-width", 0.8)

// loading arrows
pcaArrows.forEach(function(a) {
  var x0 = cx(pcaOrigin[0]), y0 = cy(pcaOrigin[1]), x1 = cx(a[1]), y1 = cy(a[2])
  var ang = Math.atan2(y1 - y0, x1 - x0), hl = 16, hw = 8.5
  var bx0 = x1 - hl * Math.cos(ang), by0 = y1 - hl * Math.sin(ang)
  gC.append("line").attr("x1", x0).attr("y1", y0).attr("x2", bx0).attr("y2", by0)
    .attr("stroke", "#1b1b1b").attr("stroke-width", 3.8)
  gC.append("path").attr("fill", "#1b1b1b").attr("d", d3.line()([
    [x1, y1],
    [bx0 + hw * Math.sin(ang), by0 - hw * Math.cos(ang)],
    [bx0 - hw * Math.sin(ang), by0 + hw * Math.cos(ang)]
  ]) + "Z")
})
var covLabel = label(gC, 91, 819, "", 17.4)
covLabel.append("tspan").text("Coverage 69 ")
covLabel.append("tspan").attr("font-style", "italic").text("Fusarium")
covLabel.append("tspan").text(" strains")
label(gC, 86, 867, "Genes", 17.4)
label(gC, 270, 936, "Repeats", 17.4)
label(gC, 111, 1087, "%GC", 17.4)

var yAxisC = gC.append("g").attr("transform", "translate(79,0)")
  .call(d3.axisLeft(cy).tickValues([-3,-2,-1,0,1,2,3]).tickSize(6).tickPadding(4).tickFormat(d3.format("d")))
yAxisC.select(".domain").remove()
var xAxisC = gC.append("g").attr("transform", "translate(0,1157)")
  .call(d3.axisBottom(cx).tickValues([-2,0,2,4,6]).tickSize(5).tickPadding(6).tickFormat(d3.format("d")))
xAxisC.select(".domain").remove()
gC.selectAll(".tick text").attr("font-size", 15).attr("font-family", "Liberation Sans").attr("fill", "#222")
gC.selectAll(".tick line").attr("stroke", "#555").attr("stroke-width", 1.2)
gC.append("path").attr("d", d3.line()([[83, 677], [83, 1157], [552, 1157]]))
  .attr("fill", "none").attr("stroke", "#555").attr("stroke-width", 1.2)
label(gC, 330, 1198, "PC1 (78.21%)", 23, "middle")
label(gC, 0, 0, "PC2 (11.93%)", 21.2, "middle").attr("transform", "translate(22,922) rotate(-90)")

//////////
// BOTTOM PANEL
//////////
var dx = d3.scaleLinear().domain([0, 100]).range([693, 1370])
var gD = svg.append("g")
gD.append("rect").attr("x", 685).attr("y", 922).attr("width", 682).attr("height", 235).attr("fill", "#d8ee85")
gD.append("rect").attr("x", dx(subtelEdges[0])).attr("y", 922)
  .attr("width", dx(subtelEdges[1]) - dx(subtelEdges[0])).attr("height", 235).attr("fill", "#e6e6e6")

var sepY = [[972.7,"#777"],[1034,"#777"],[1095,"#111"]]
sepY.forEach(d => gD.append("line").attr("x1", 685).attr("x2", 1367).attr("y1", d[0]).attr("y2", d[0]).attr("stroke", d[1]).attr("stroke-width", 1.2))

var strips = [
  { name: "GC", vals: gcValues, dom: [0.40, 0.45], rng: [962.3, 941.7], ticks: [0.40, 0.45], fmt: d3.format(".2f"), ly: 947, lx: 638 },
  { name: "Repeats", vals: repeatValues, dom: [2000, 4000], rng: [1011, 987.7], ticks: [2000, 4000], fmt: d3.format("d"), ly: 1003, lx: 645 },
  { name: "Genes", vals: geneValues, dom: [2500, 5000], rng: [1075.7, 1056.3], ticks: [2500, 5000], fmt: d3.format("d"), ly: 1065, lx: 645 },
  { name: "Coverage", vals: coverageValues, dom: [25, 50], rng: [1136.7, 1117.3], ticks: [25, 50], fmt: d3.format("d"), ly: 1125, lx: 645 }
]
strips.forEach(function(s) {
  var y = d3.scaleLinear().domain(s.dom).range(s.rng)
  gD.append("path").datum(s.vals)
    .attr("d", d3.line().x((d, i) => dx(-0.5 + 1.25 * i)).y(d => y(d)))
    .attr("fill", "none").attr("stroke", "#1a1a1a").attr("stroke-width", 4.2).attr("stroke-linejoin", "miter")
  var ax1 = gD.append("g").attr("transform", "translate(685,0)")
    .call(d3.axisLeft(y).tickValues(s.ticks).tickSize(3.5).tickPadding(3).tickFormat(s.fmt))
  ax1.select(".domain").remove()
  ax1.selectAll("text").attr("font-size", 11).attr("font-family", "Liberation Sans").attr("fill", "#333")
  ax1.selectAll("line").attr("stroke", "#666")
  label(gD, s.lx, s.ly, s.name, 22.2, "end")
})

var xAxisD = gD.append("g").attr("transform", "translate(0,1157)")
  .call(d3.axisBottom(dx).tickValues([0,20,40,60,80,100]).tickSize(4).tickPadding(5).tickFormat(d3.format("d")))
xAxisD.select(".domain").attr("stroke", "#333").attr("d", "M685,0.5H1367")
xAxisD.selectAll("text").attr("font-size", 16.5).attr("font-family", "Liberation Sans").attr("fill", "#222")
xAxisD.selectAll("line").attr("stroke", "#333")
gD.append("line").attr("x1", 540).attr("x2", 553).attr("y1", 1157).attr("y2", 1157).attr("stroke", "#999").attr("stroke-width", 1)
label(gD, 1024, 1197, "Percentage of chromosome", 22.2, "middle")

</script>
</body>
</html>
